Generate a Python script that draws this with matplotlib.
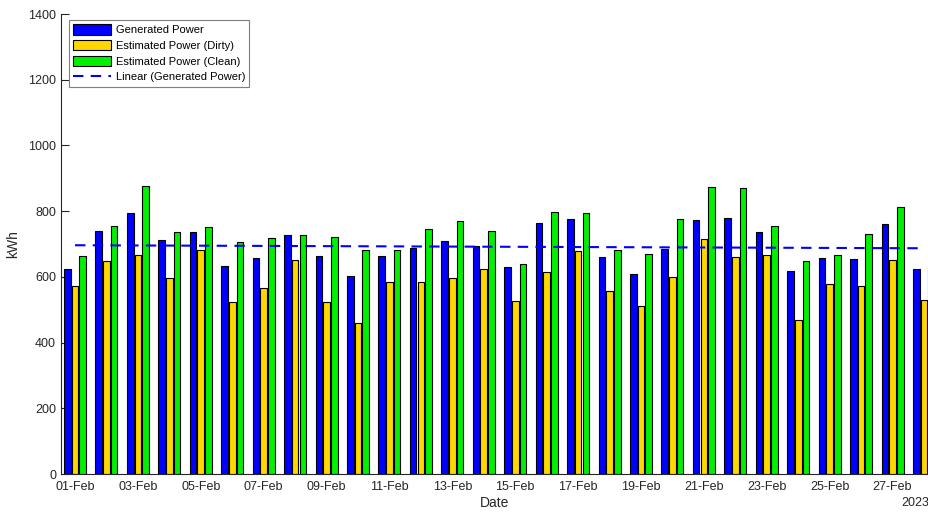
import numpy as np
import matplotlib
matplotlib.use("Agg")
import matplotlib.pyplot as plt

plt.rcParams['font.family'] = ['Liberation Sans', 'DejaVu Sans']

# daily values, February 2023
days = np.arange(1, 29)
generated = [624, 739, 794, 713, 738, 634, 658, 727, 664, 602,
             663, 689, 710, 693, 629, 763, 775, 659, 608, 684,
             773, 778, 736, 617, 657, 654, 762, 623]
dirty = [571, 647, 667, 598, 681, 522, 566, 652, 522, 461,
         585, 585, 596, 624, 526, 615, 679, 557, 510, 599,
         715, 660, 668, 470, 578, 571, 651, 531]
clean = [665, 754, 876, 736, 752, 705, 719, 727, 720, 681,
         681, 747, 769, 741, 638, 796, 795, 682, 670, 775,
         872, 870, 756, 649, 667, 729, 812, 628]
tick_days = days[::2]
tick_labels = ["%02d-Feb" % d for d in tick_days]

fig = plt.figure(figsize=(9.29, 5.13), dpi=100)
ax = fig.add_axes([0.0657, 0.076, 0.9343, 0.8967])

w = 0.21
off = 0.245
b1 = ax.bar(days - off, generated, w, color='#0000ff', edgecolor='black', linewidth=0.8, label='Generated Power')
b2 = ax.bar(days, dirty, w, color='#ffd700', edgecolor='black', linewidth=0.8, label='Estimated Power (Dirty)')
b3 = ax.bar(days + off, clean, w, color='#00f000', edgecolor='black', linewidth=0.8, label='Estimated Power (Clean)')

# linear trend of generated power
k, b = np.polyfit(days, generated, 1)
ln, = ax.plot(days, k * days + b, color='#0000ff', linestyle=(0, (5, 3.5)), linewidth=1.5,
              label='Linear (Generated Power)', zorder=3)

ax.set_xlim(days[0] - 0.445, days[-1] + 0.16)
ax.set_ylim(0, 1400)
ax.set_yticks(np.arange(0, 1401, 200))
ax.set_xticks(tick_days)
ax.set_xticklabels(tick_labels)
ax.tick_params(direction='in', length=6, width=0.8, labelsize=9, colors='#262626')
ax.tick_params(axis='x', pad=5)
ax.set_axisbelow(True)
for s in ['top', 'right']:
    ax.spines[s].set_visible(False)
for s in ['left', 'bottom']:
    ax.spines[s].set_color('#262626')
    ax.spines[s].set_linewidth(0.8)

ax.set_xlabel('Date', fontsize=10, color='#262626', labelpad=2)
ax.set_ylabel('kWh', fontsize=10, color='#262626', labelpad=6)
ax.text(1.0, -0.063, '2023', transform=ax.transAxes, ha='right', va='center',
        fontsize=9, color='#262626')

leg = ax.legend(handles=[b1, b2, b3, ln], loc='upper left', bbox_to_anchor=(0.009, 0.987), fontsize=8,
                fancybox=False, edgecolor='#7f7f7f', framealpha=1,
                handlelength=3.4, handleheight=1.05, labelspacing=0.42,
                handletextpad=0.4, borderpad=0.4, borderaxespad=0)
leg.get_frame().set_linewidth(0.8)

fig.savefig('out.png', dpi=100)
